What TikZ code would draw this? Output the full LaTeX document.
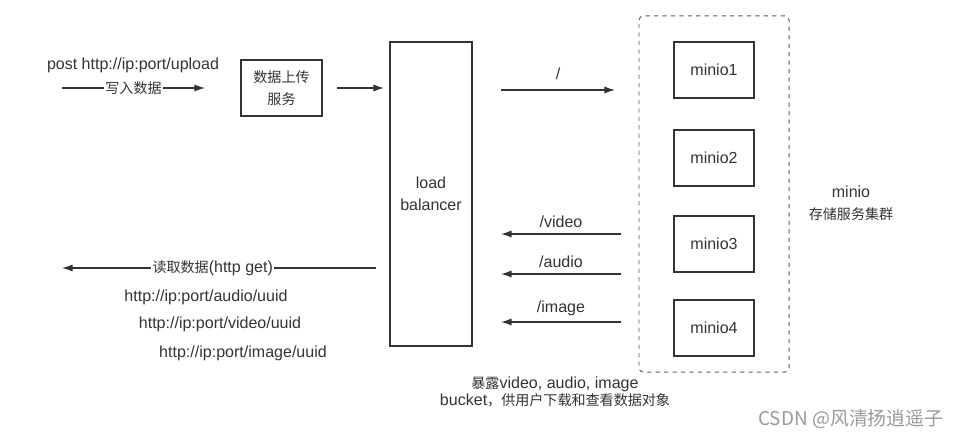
\documentclass[tikz,border=0pt]{standalone}
\usepackage{fontspec}
\setmainfont[Scale=1.14]{Liberation Sans}
\newfontfamily\cjk{Noto Sans CJK SC}
\usetikzlibrary{arrows.meta}
\definecolor{ink}{HTML}{333333}
\definecolor{mark}{HTML}{9A9A9A}
\tikzset{
	box/.style={shape=rectangle, draw=ink, line width=0.9pt, text=ink, align=center},
	lbl/.style={text=ink, align=center, inner sep=1pt},
	arr/.style={draw=ink, line width=0.8pt, -{Latex[length=7.5pt, width=5pt]}},
}
\begin{document}
\begin{tikzpicture}[x=0.025cm, y=-0.025cm, font=\fontsize{10}{15.5}\selectfont]
	\useasboundingbox (0,0) rectangle (964,438);
	% boxes
	\node[box, minimum width=2.025cm, minimum height=1.4cm] (upload) at (281.5, 88){\cjk 数据上传\\\cjk 服务};
	\node[box, minimum width=2.05cm, minimum height=7.6cm] (lb) at (431, 194){load\\balancer};
	\node[shape=rectangle, draw=ink!80, dashed, rounded corners=3pt, line width=0.7pt, minimum width=3.75cm, minimum height=8.9cm] (cluster) at (714, 194){};
	\node[box, minimum width=2cm, minimum height=1.4cm] (minio1) at (714, 70){minio1};
	\node[box, minimum width=2cm, minimum height=1.4cm] (minio2) at (714, 158){minio2};
	\node[box, minimum width=2cm, minimum height=1.4cm] (minio3) at (714, 244){minio3};
	\node[box, minimum width=2cm, minimum height=1.4cm] (minio4) at (714, 328){minio4};
	\node[lbl] (clustertxt) at (851, 203){minio\\\cjk 存储服务集群};
	% upload path
	\node[lbl] (post) at (133, 65){post http://ip:port/upload};
	\coordinate (in1) at (62, 88);
	\coordinate (in2) at (205, 88);
	\draw[arr] (in1) -- (in2) node[midway, fill=white, lbl]{\cjk 写入数据};
	\coordinate (up1) at (337, 88);
	\coordinate (up2) at (384, 88);
	\draw[arr] (up1) -- (up2);
	\coordinate (lbout) at (501, 90);
	\coordinate (clin) at (615, 90);
	\draw[arr] (lbout) -- (clin) node[midway, above=6pt, lbl]{/};
	% bucket paths
	\coordinate (v1) at (621, 234);
	\coordinate (v2) at (501, 234);
	\draw[arr] (v1) -- (v2) node[midway, above=3pt, lbl]{/video};
	\coordinate (a1) at (621, 274);
	\coordinate (a2) at (501, 274);
	\draw[arr] (a1) -- (a2) node[midway, above=3pt, lbl]{/audio};
	\coordinate (i1) at (621, 322);
	\coordinate (i2) at (501, 322);
	\draw[arr] (i1) -- (i2) node[midway, above=3pt, lbl]{/image};
	% read path
	\coordinate (rd1) at (376, 268);
	\coordinate (rd2) at (62, 268);
	\draw[arr] (rd1) -- (rd2) node[pos=0.52, fill=white, lbl]{{\cjk 读取数据}(http get)};
	\node[lbl] (url1) at (206, 297){http://ip:port/audio/uuid};
	\node[lbl] (url2) at (220, 324){http://ip:port/video/uuid};
	\node[lbl] (url3) at (243, 353){http://ip:port/image/uuid};
	\node[lbl, font=\fontsize{10}{12.5}\selectfont] (note) at (555, 392){{\cjk 暴露}video, audio, image\\bucket{\cjk ，供用户下载和查看数据对象}};
	\node[text=mark, font=\fontsize{13.5}{15}\selectfont\cjk] (wm) at (851, 419){CSDN @风清扬逍遥子};
\end{tikzpicture}
\end{document}
